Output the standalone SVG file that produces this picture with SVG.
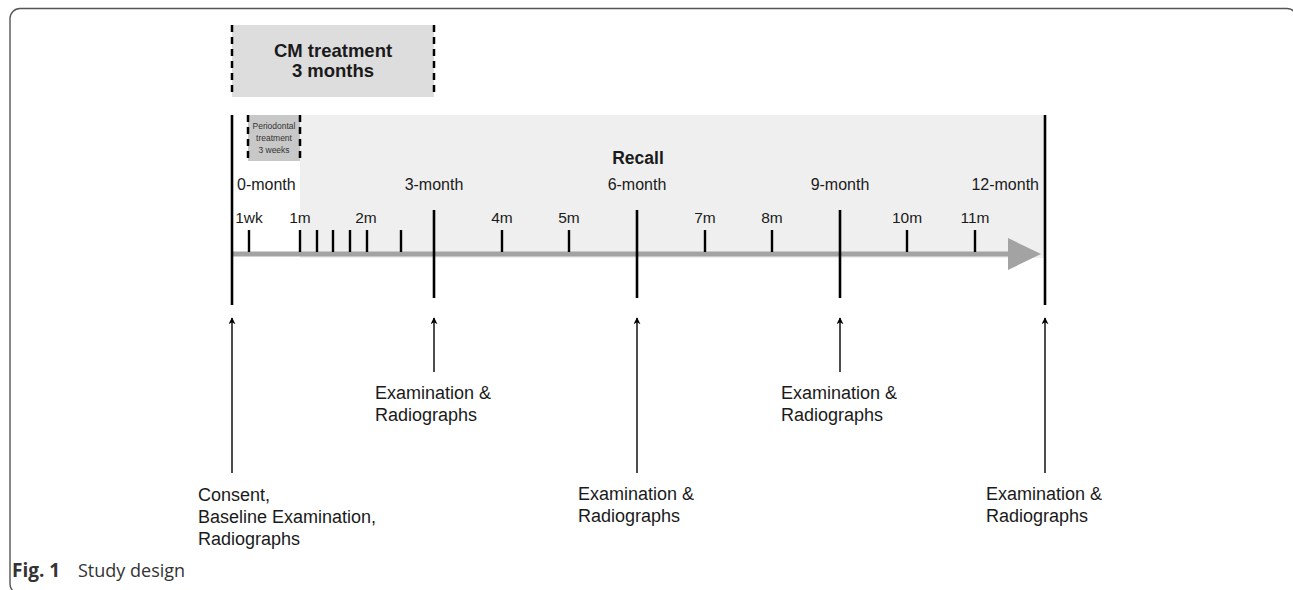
<svg xmlns="http://www.w3.org/2000/svg" width="1293" height="590" viewBox="0 0 1293 590">
<defs>
<style>
.t{font-family:"Liberation Sans",Arial,sans-serif;fill:#1a1a1a}
.lab{font-size:15.5px}
.mon{font-size:16px}
.big{font-size:18px}
.b{font-weight:bold}
.per{font-size:8.5px;fill:#333}
.dash{stroke:#000;stroke-width:2.5;stroke-dasharray:7,5;fill:none}
.vl{stroke:#000;stroke-width:2.6}
.tk{stroke:#000;stroke-width:2.4}
.up{stroke:#000;stroke-width:1.4;marker-end:url(#ah)}
.cap{font-family:"Open Sans","Noto Sans",sans-serif;font-size:18px;fill:#333}
</style>
<marker id="ah" viewBox="0 0 10 10" refX="9" refY="5" markerWidth="7" markerHeight="7" markerUnits="userSpaceOnUse" orient="auto">
<path d="M0,0 L10,5 L0,10 L3,5 Z" fill="#000"/>
</marker>
</defs>
<rect width="1293" height="590" fill="#fff"/>
<rect x="10" y="8.5" width="1287" height="585.5" rx="10" fill="none" stroke="#555" stroke-width="1.4"/>

<g id="cm-treatment">
<rect x="232" y="25" width="202" height="72" fill="#dddddd"/>
<line class="dash" x1="232" y1="25" x2="232" y2="97"/>
<line class="dash" x1="434" y1="25" x2="434" y2="97"/>
<text class="t b" x="333" y="57" text-anchor="middle" font-size="18.5">CM treatment</text>
<text class="t b" x="333" y="77" text-anchor="middle" font-size="18.5">3 months</text>
</g>

<g id="recall">
<rect x="300" y="115" width="745" height="143" fill="#efefef"/>
<text class="t b" x="638" y="164" text-anchor="middle" font-size="17.5">Recall</text>
</g>

<g id="periodontal">
<rect x="248" y="115" width="52" height="46" fill="#c8c8c8"/>
<line class="dash" x1="248" y1="115" x2="248" y2="161" stroke-width="2" stroke-dasharray="5,4"/>
<line class="dash" x1="300" y1="115" x2="300" y2="161" stroke-width="2" stroke-dasharray="5,4"/>
<text class="t per" x="274" y="129" text-anchor="middle">Periodontal</text>
<text class="t per" x="274" y="141" text-anchor="middle">treatment</text>
<text class="t per" x="274" y="153" text-anchor="middle">3 weeks</text>
</g>

<g id="timeline">
<line x1="232" y1="254" x2="1012" y2="254" stroke="#a3a3a3" stroke-width="5"/>
<polygon points="1008,238 1041,254 1008,270" fill="#a3a3a3"/>
<line class="vl" x1="232" y1="115" x2="232" y2="305"/>
<line class="vl" x1="1045" y1="115" x2="1045" y2="305"/>
<line class="vl" x1="434" y1="210" x2="434" y2="298"/>
<line class="vl" x1="637" y1="210" x2="637" y2="298"/>
<line class="vl" x1="840" y1="210" x2="840" y2="298"/>
<g class="tk">
<line x1="249" y1="230" x2="249" y2="252"/>
<line x1="300" y1="230" x2="300" y2="252"/>
<line x1="317" y1="230" x2="317" y2="252"/>
<line x1="333" y1="230" x2="333" y2="252"/>
<line x1="350" y1="230" x2="350" y2="252"/>
<line x1="367" y1="230" x2="367" y2="252"/>
<line x1="401" y1="230" x2="401" y2="252"/>
<line x1="502" y1="230" x2="502" y2="252"/>
<line x1="569" y1="230" x2="569" y2="252"/>
<line x1="705" y1="230" x2="705" y2="252"/>
<line x1="772" y1="230" x2="772" y2="252"/>
<line x1="907" y1="230" x2="907" y2="252"/>
<line x1="975" y1="230" x2="975" y2="252"/>
</g>
<g class="t mon">
<text x="237" y="190">0-month</text>
<text x="434" y="190" text-anchor="middle">3-month</text>
<text x="637" y="190" text-anchor="middle">6-month</text>
<text x="840" y="190" text-anchor="middle">9-month</text>
<text x="1039" y="190" text-anchor="end">12-month</text>
</g>
<g class="t lab" text-anchor="middle">
<text x="249" y="223">1wk</text>
<text x="300" y="223">1m</text>
<text x="366" y="223">2m</text>
<text x="502" y="223">4m</text>
<text x="569" y="223">5m</text>
<text x="705" y="223">7m</text>
<text x="772" y="223">8m</text>
<text x="907" y="223">10m</text>
<text x="975" y="223">11m</text>
</g>
</g>

<g id="connectors">
<line class="up" x1="232" y1="473" x2="232" y2="318"/>
<line class="up" x1="434" y1="372" x2="434" y2="318"/>
<line class="up" x1="637" y1="473" x2="637" y2="318"/>
<line class="up" x1="840" y1="372" x2="840" y2="318"/>
<line class="up" x1="1045" y1="473" x2="1045" y2="318"/>
</g>

<g id="baseline-label" class="t big">
<text x="198" y="501">Consent,</text>
<text x="198" y="523">Baseline Examination,</text>
<text x="198" y="545">Radiographs</text>
</g>
<g id="exam-3m" class="t big">
<text x="375" y="399">Examination &amp;</text>
<text x="375" y="421">Radiographs</text>
</g>
<g id="exam-6m" class="t big">
<text x="578" y="500">Examination &amp;</text>
<text x="578" y="522">Radiographs</text>
</g>
<g id="exam-9m" class="t big">
<text x="781" y="399">Examination &amp;</text>
<text x="781" y="421">Radiographs</text>
</g>
<g id="exam-12m" class="t big">
<text x="986" y="500">Examination &amp;</text>
<text x="986" y="522">Radiographs</text>
</g>

<g id="caption">
<text class="cap" x="12" y="577"><tspan font-weight="bold" font-size="19">Fig. 1</tspan><tspan x="78">Study design</tspan></text>
</g>
</svg>
